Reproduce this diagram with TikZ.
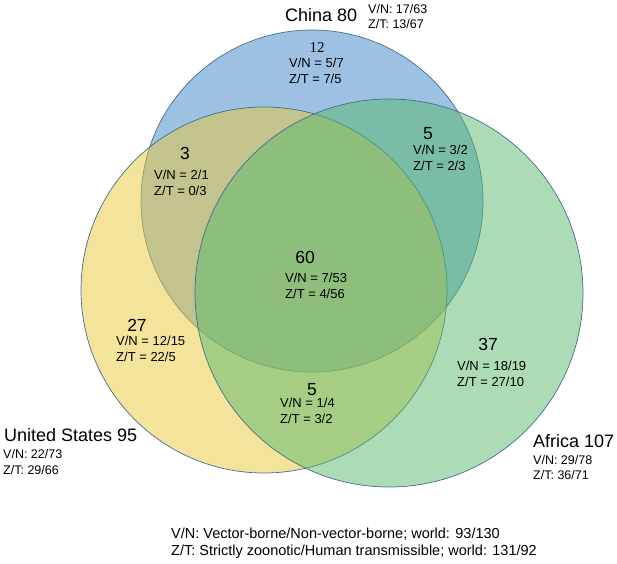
\documentclass[tikz,border=0pt]{standalone}
\usepackage{fontspec}
\setmainfont{Liberation Sans}
\newfontfamily\serifnum{Liberation Serif}
\definecolor{chinablue}{RGB}{60,132,200}
\definecolor{usyellow}{RGB}{233,199,55}
\definecolor{afgreen}{RGB}{88,185,108}
\definecolor{edgecol}{RGB}{70,110,140}
\begin{document}
\begin{tikzpicture}[x=1pt,y=-1pt,
  venn/.style={circle, draw=edgecol, line width=0.7pt, fill opacity=0.5, draw opacity=1, inner sep=0},
  bignum/.style={font=\fontsize{17.5}{20}\selectfont, inner sep=0, text depth=0pt},
  regtxt/.style={font=\fontsize{13}{16}\selectfont, align=left, inner sep=0, anchor=west},
  title/.style={font=\fontsize{18}{20}\selectfont, inner sep=0, anchor=west},
  sidetxt/.style={font=\fontsize{12.5}{15.5}\selectfont, align=left, inner sep=0, anchor=west},
  foot/.style={font=\fontsize{14.5}{17}\selectfont, align=left, inner sep=0, anchor=west}]
\useasboundingbox (0,0) rectangle (617,563);
% circles
\node[venn, fill=chinablue, minimum size=342pt] (china) at (312,201) {};
\node[venn, fill=usyellow, minimum size=366pt] (us) at (264,290) {};
\node[venn, fill=afgreen, minimum size=388pt] (africa) at (389,293) {};
% set titles
\node[title] (tchina) at (285,15) {China 80};
\node[sidetxt] (schina) at (368,16.5) {V/N: 17/63\\Z/T: 13/67};
\node[title] (tus) at (4,435) {United States 95};
\node[sidetxt] (sus) at (3,462) {V/N: 22/73\\Z/T: 29/66};
\node[title] (taf) at (533,441) {Africa 107};
\node[sidetxt] (saf) at (533,467.5) {V/N: 29/78\\Z/T: 36/71};
% regions
\node[font=\serifnum\fontsize{15}{17}\selectfont, inner sep=0] (n12) at (317,48) {12};
\node[regtxt] (r12) at (289,71) {V/N = 5/7\\Z/T = 7/5};
\node[bignum] (n3) at (185,153) {3};
\node[regtxt] (r3) at (154,182.5) {V/N = 2/1\\Z/T = 0/3};
\node[bignum] (n5a) at (428,133) {5};
\node[regtxt] (r5a) at (413,158) {V/N = 3/2\\Z/T = 2/3};
\node[bignum] (n60) at (305,257) {60};
\node[regtxt] (r60) at (285,286) {V/N = 7/53\\Z/T = 4/56};
\node[bignum] (n27) at (137,325) {27};
\node[regtxt] (r27) at (116,348.5) {V/N = 12/15\\Z/T = 22/5};
\node[bignum] (n37) at (488,344) {37};
\node[regtxt] (r37) at (457,373.5) {V/N = 18/19\\Z/T = 27/10};
\node[bignum] (n5b) at (312,389) {5};
\node[regtxt] (r5b) at (280,411) {V/N = 1/4\\Z/T = 3/2};
% footnote
\node[foot] (legend) at (171,543.5) {V/N: Vector-borne/Non-vector-borne; world: 93/130\\Z/T: Strictly zoonotic/Human transmissible; world: 131/92};
\end{tikzpicture}
\end{document}
